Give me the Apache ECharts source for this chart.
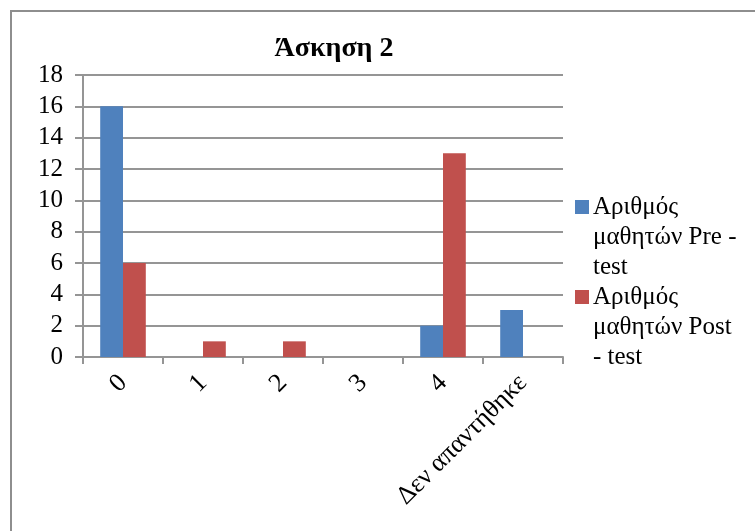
<!DOCTYPE html>
<html>
<head>
<meta charset="utf-8">
<script src="https://cdn.jsdelivr.net/npm/echarts@6/dist/echarts.min.js"></script>
<style>html,body{margin:0;padding:0;background:#fff}#c{width:755px;height:531px}</style>
</head>
<body>
<div id="c"></div>
<script>
const categories = ['0', '1', '2', '3', '4', 'Δεν απαντήθηκε'];
const preName = 'Αριθμός μαθητών Pre - test';
const postName = 'Αριθμός μαθητών Post - test';
const preValues = [16, 0, 0, 0, 2, 3];
const postValues = [6, 1, 1, 0, 13, 0];
const preLegendLines = ['Αριθμός', 'μαθητών Pre -', 'test'];
const postLegendLines = ['Αριθμός', 'μαθητών Post', '- test'];
const titleText = 'Άσκηση 2';

const BLUE = '#4F81BD', RED = '#C0504D', GRID = '#959595';
const FONT = "'Liberation Serif', 'Times New Roman', serif";

const chart = echarts.init(document.getElementById('c'), null, {renderer: 'canvas'});
function legendText(lines, key) {
  return lines.map((l, i) => (i === 0 ? '{' + key + '|}{g|}' : '{sp|}') + l).join('\n');
}
chart.setOption({
  animation: false,
  backgroundColor: '#fff',
  title: {
    text: titleText, left: 329, top: 30, textAlign: 'center',
    textStyle: {fontFamily: FONT, fontWeight: 'bold', fontSize: 28, color: '#000'}
  },
  graphic: [{
    type: 'rect', shape: {x: 11, y: 11, width: 800, height: 600},
    style: {fill: 'none', stroke: '#8e8e8e', lineWidth: 2}, silent: true
  }],
  grid: {left: 83, right: 192, top: 75, bottom: 174, containLabel: false},
  legend: {
    orient: 'vertical', left: 570, top: 192, padding: 0, itemGap: 0,
    itemWidth: 0, itemHeight: 0, icon: 'rect',
    data: [preName, postName],
    formatter: function (name) {
      return name === preName ? legendText(preLegendLines, 'a') : legendText(postLegendLines, 'b');
    },
    textStyle: {
      fontFamily: FONT, fontSize: 25, color: '#000', lineHeight: 30,
      rich: {
        a: {width: 14, height: 14, backgroundColor: BLUE},
        b: {width: 14, height: 14, backgroundColor: RED},
        g: {width: 4},
        sp: {width: 18}
      }
    }
  },
  xAxis: {
    type: 'category', data: categories, boundaryGap: true,
    axisLine: {show: true, lineStyle: {color: GRID, width: 2}},
    axisTick: {show: true, length: 7, alignWithLabel: false, lineStyle: {color: GRID, width: 2}},
    axisLabel: {rotate: 45, margin: 22, fontFamily: FONT, fontSize: 26, color: '#000', interval: 0},
    splitLine: {show: false}
  },
  yAxis: {
    type: 'value', min: 0, max: 18, interval: 2,
    axisLine: {show: true, lineStyle: {color: GRID, width: 2}},
    axisTick: {show: true, length: 8, lineStyle: {color: GRID, width: 2}},
    axisLabel: {margin: 20, fontFamily: FONT, fontSize: 25, color: '#000'},
    splitLine: {show: true, lineStyle: {color: GRID, width: 2}}
  },
  series: [
    {name: preName, type: 'bar', data: preValues, itemStyle: {color: BLUE}, barGap: '0%', barCategoryGap: '43%'},
    {name: postName, type: 'bar', data: postValues, itemStyle: {color: RED}, barGap: '0%', barCategoryGap: '43%'}
  ]
});
</script>
</body>
</html>
